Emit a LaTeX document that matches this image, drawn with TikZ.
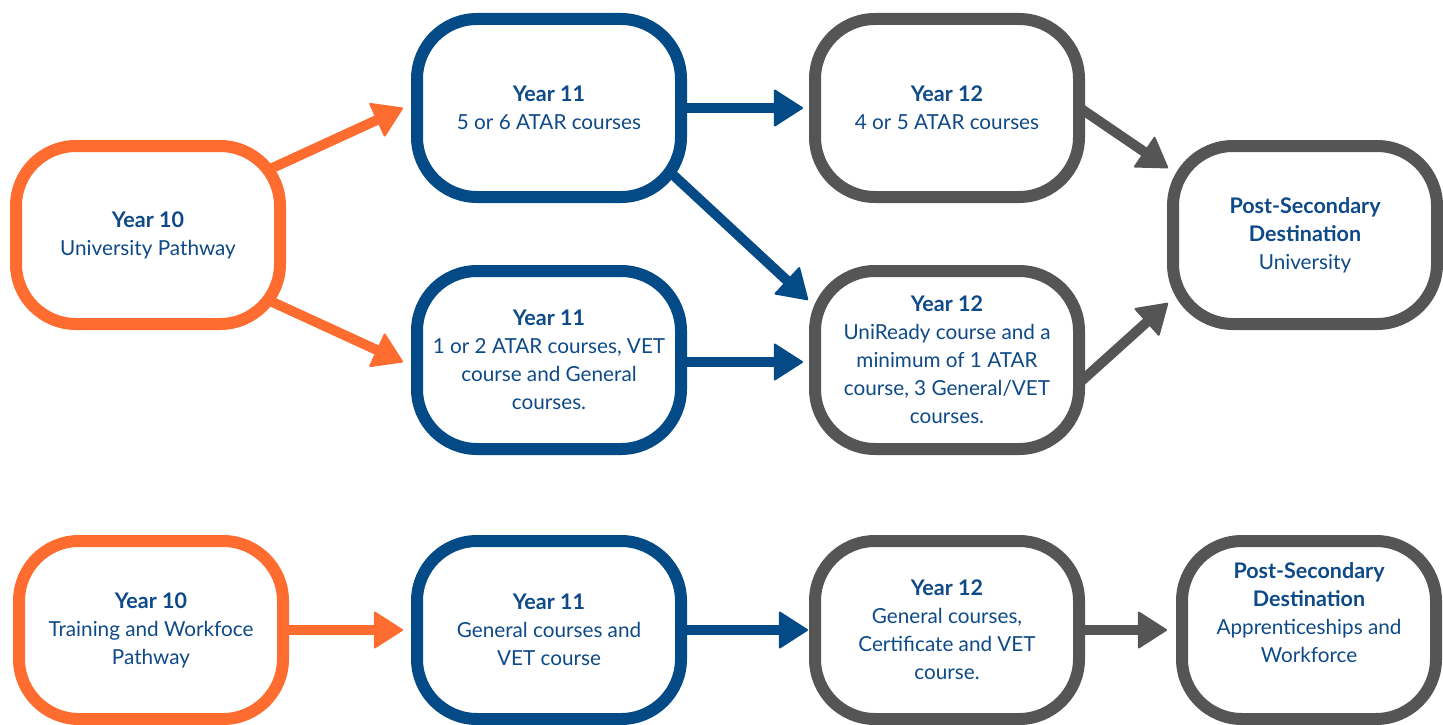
\documentclass[tikz,border=0pt]{standalone}
\usepackage{fontspec}
\setmainfont{Lato}
\usetikzlibrary{arrows.meta}
\definecolor{orng}{HTML}{FF6C2F}
\definecolor{blu}{HTML}{034A86}
\definecolor{gry}{HTML}{555555}
\definecolor{txt}{HTML}{0E4A87}
\newcommand{\hd}[1]{{\fontsize{21.5}{28}\selectfont\bfseries #1}}
\tikzset{
  box/.style={draw, line width=12pt, rounded corners=60pt, minimum width=264pt,
    minimum height=178pt, inner sep=0pt, outer sep=0pt, fill=white, align=center,
    text=txt, font=\fontsize{20.7}{28}\selectfont},
  obox/.style={box, draw=orng},
  bbox/.style={box, draw=blu},
  gbox/.style={box, draw=gry},
  arr/.style={line width=10pt, -{Triangle[width=38pt,length=30pt,round,line width=2pt]}},
  oarr/.style={arr, draw=orng, fill=orng},
  barr/.style={arr, draw=blu, fill=blu},
  garr/.style={arr, draw=gry, fill=gry}
}
\begin{document}
\begin{tikzpicture}[x=1pt,y=-1pt]
\useasboundingbox (0,0) rectangle (1443,725);
% top rows
\node[obox] (A) at (148,235) {\hd{Year 10}\\University Pathway};
\node[bbox] (B) at (549,108) {\hd{Year 11}\\5 or 6 ATAR courses};
\node[bbox] (C) at (549,360) {\hd{Year 11}\\1 or 2 ATAR courses, VET\\course and General\\courses.};
\node[gbox] (D) at (947,108) {\hd{Year 12}\\4 or 5 ATAR courses};
\node[gbox] (E) at (947,360) {\hd{Year 12}\\UniReady course and a\\minimum of 1 ATAR\\course, 3 General/VET\\courses.};
\node[gbox] (F) at (1305,235) {\hd{Post-Secondary}\\\hd{Destination}\\University};
% bottom row
\node[obox] (G) at (151,630) {\hd{Year 10}\\Training and Workfoce\\Pathway};
\node[bbox] (H) at (549,630) {\hd{Year 11}\\General courses and\\VET course};
\node[gbox] (I) at (947,630) {\hd{Year 12}\\General courses,\\Certificate and VET\\course.};
\node[gbox, minimum width=254pt] (J) at (1309,630) {\raisebox{10pt}[0pt][0pt]{\begin{tabular}{@{}c@{}}\hd{Post-Secondary}\\\hd{Destination}\\Apprenticeships and\\Workforce\end{tabular}}};
% connectors
\draw[oarr] ([shift={(120,-65)}]A.center) -- ([shift={(-146,0)}]B.center);
\draw[oarr] ([shift={(120,65)}]A.center) -- ([shift={(-146,2)}]C.center);
\draw[barr] ([shift={(130,0)}]B.center) -- ([shift={(-144,0)}]D.center);
\draw[barr] ([shift={(121,64)}]B.center) -- ([shift={(-139,-60)}]E.center);
\draw[barr] ([shift={(130,2)}]C.center) -- ([shift={(-144,2)}]E.center);
\draw[garr] ([shift={(130,-2)}]D.center) -- ([shift={(-137,-67)}]F.center);
\draw[garr] ([shift={(130,25)}]E.center) -- ([shift={(-137,68)}]F.center);
\draw[oarr] ([shift={(132,0)}]G.center) -- ([shift={(-146,0)}]H.center);
\draw[barr] ([shift={(132,0)}]H.center) -- ([shift={(-139,0)}]I.center);
\draw[garr] ([shift={(132,0)}]I.center) -- ([shift={(-142,0)}]J.center);
\end{tikzpicture}
\end{document}
